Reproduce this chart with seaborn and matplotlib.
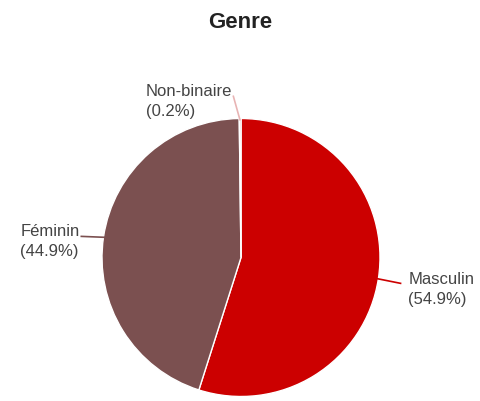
import numpy as np
import matplotlib.pyplot as plt
import seaborn as sns

# données
genres = ['Masculin', 'Féminin', 'Non-binaire']
parts = [54.9, 44.9, 0.2]
couleurs = ['#cc0000', '#7b5050', '#e8b4b4']

sns.set_theme(style='white')
plt.rcParams['font.family'] = ['Liberation Sans', 'DejaVu Sans']

fig = plt.figure(figsize=(4.8, 4.01), dpi=100)
ax = fig.add_axes([0, 0, 1, 1])

cx, cy, r = 241, 143.5, 139
wedges, _ = ax.pie(parts, colors=couleurs, startangle=90, counterclock=False,
                   center=(cx, cy), radius=r, frame=True,
                   wedgeprops=dict(edgecolor='white', linewidth=1))
ax.set_xlim(0, 480)
ax.set_ylim(0, 401)
ax.set_aspect('equal')
ax.axis('off')

renderer = fig.canvas.get_renderer()

# étiquettes : (dx, dy) de la ligne de rappel, côté du texte
decalages = {'Masculin': (25, -5, 'left'), 'Féminin': (-25, 1, 'right'),
             'Non-binaire': (-7, 25, 'right')}
for w, nom, p, c in zip(wedges, genres, parts, couleurs):
    ang = np.deg2rad((w.theta1 + w.theta2) / 2)
    x0, y0 = cx + (r - 2) * np.cos(ang), cy + (r - 2) * np.sin(ang)
    dx, dy, ha = decalages[nom]
    x1, y1 = x0 + dx, y0 + dy
    ax.plot([x0, x1], [y0, y1], color=c, lw=1.2, solid_capstyle='butt')
    tx = x1 + 7 if ha == 'left' else x1 - 1
    t = ax.text(tx, y1, nom, ha=ha, va='baseline', fontsize=12, color='#444444')
    if ha == 'right':
        bb = t.get_window_extent(renderer)
        tx = ax.transData.inverted().transform((bb.x0, bb.y0))[0]
    ax.text(tx, y1 - 20, f'({p:.1f}%)', ha='left', va='baseline',
            fontsize=12, color='#444444')

ax.text(240, 401 - 22, 'Genre', ha='center', va='center',
        fontsize=16, fontweight='bold', color='#222222')

fig.savefig('out.png', dpi=100)
